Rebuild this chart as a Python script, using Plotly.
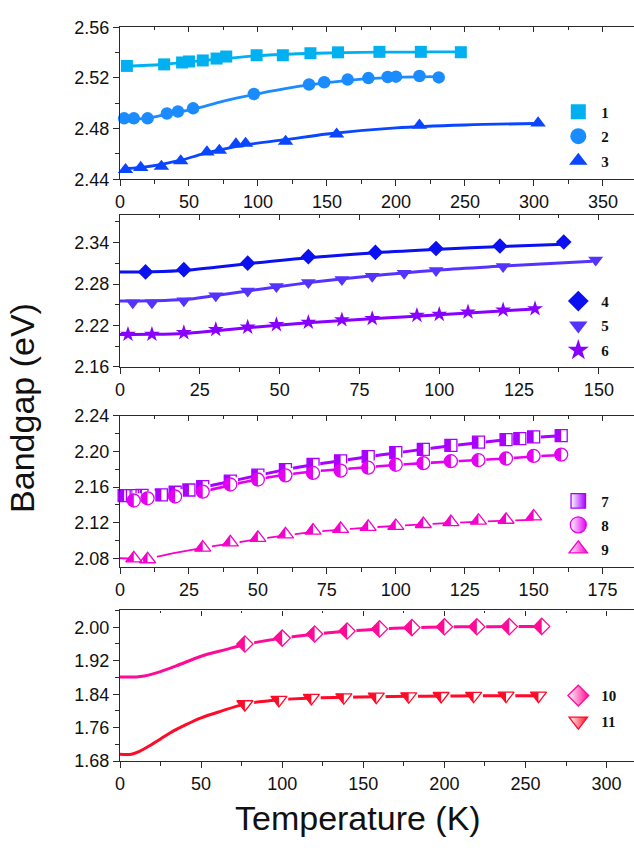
import plotly.graph_objects as go

# ---------------- data ----------------
T1 = [5, 32, 45, 50, 60, 70, 77, 99, 118, 138, 158, 188, 218, 247]
E1 = [2.5295, 2.5307, 2.5322, 2.5330, 2.5338, 2.5353, 2.5369, 2.5379, 2.5379, 2.5395, 2.5402, 2.5406, 2.5406, 2.5403]
T2 = [3, 10, 20, 34, 42, 53, 97, 137, 148, 165, 180, 194, 200, 217, 231]
E2 = [2.4881, 2.4881, 2.4881, 2.4919, 2.4935, 2.4960, 2.5073, 2.5148, 2.5166, 2.5187, 2.5199, 2.5207, 2.5210, 2.5215, 2.5204]
T3 = [4, 15, 30, 44, 63, 72, 84, 91, 120, 157, 217, 303]
E3 = [2.4475, 2.4492, 2.4501, 2.4544, 2.4614, 2.4627, 2.4678, 2.4683, 2.4698, 2.4756, 2.4826, 2.4844]
F1T = [4, 30, 50, 75, 100, 125, 150, 175, 200, 225, 247]
F1E = [2.5292, 2.5306, 2.5327, 2.5352, 2.5375, 2.5389, 2.5397, 2.5402, 2.5404, 2.5405, 2.5405]
F2T = [3, 20, 34, 53, 75, 100, 125, 150, 175, 200, 231]
F2E = [2.4872, 2.4882, 2.4913, 2.4953, 2.5017, 2.5075, 2.5125, 2.5162, 2.5190, 2.5205, 2.5210]
F3T = [2, 15, 30, 45, 60, 75, 90, 120, 150, 200, 250, 302]
F3E = [2.4482, 2.4493, 2.4518, 2.4552, 2.4600, 2.4638, 2.4670, 2.4712, 2.4757, 2.4805, 2.4828, 2.4840]

T4 = [8, 20, 40, 59, 80, 99, 119, 139]
E4 = [2.2976, 2.3009, 2.3103, 2.3197, 2.3259, 2.3315, 2.3352, 2.3409]
T5 = [4, 10, 20, 30, 40, 49, 59, 69.5, 79, 89, 99, 120, 149]
E5 = [2.2529, 2.2529, 2.2557, 2.2632, 2.2698, 2.2764, 2.2821, 2.2866, 2.2913, 2.2958, 2.2997, 2.3055, 2.3150]
T6 = [2.5, 10, 20, 30, 40, 49, 59, 69.5, 79, 93, 100, 109, 120, 130]
E6 = [2.2072, 2.2072, 2.2095, 2.2142, 2.2175, 2.2213, 2.2246, 2.2282, 2.2300, 2.2347, 2.2361, 2.2395, 2.2424, 2.2442]
F4T = [0, 10, 20, 30, 40, 60, 80, 100, 120, 139]
F4E = [2.2975, 2.2978, 2.2995, 2.3045, 2.3095, 2.3185, 2.3255, 2.3305, 2.3345, 2.3378]
F5T = [0, 10, 20, 30, 40, 50, 60, 70, 80, 100, 120, 148]
F5E = [2.2555, 2.2558, 2.2575, 2.2635, 2.2700, 2.2765, 2.2825, 2.2878, 2.2925, 2.3005, 2.3060, 2.3130]
F6T = [0, 10, 20, 30, 40, 60, 80, 100, 130]
F6E = [2.2070, 2.2072, 2.2085, 2.2125, 2.2168, 2.2242, 2.2300, 2.2355, 2.2440]

T7 = [1.5, 4.5, 8, 15, 20, 25, 30, 40, 50, 60, 70, 80, 90, 100, 110, 120, 130, 140, 145, 150, 160]
E7 = [2.1505, 2.1505, 2.1507, 2.1513, 2.1543, 2.1568, 2.1605, 2.1667, 2.1735, 2.1798, 2.1855, 2.1896, 2.1944, 2.1988, 2.2025, 2.2069, 2.2106, 2.2135, 2.2146, 2.2165, 2.2179]
T8 = [5, 10, 20, 30, 40, 50, 60, 70, 80, 90, 100, 110, 120, 130, 140, 150, 160]
E8 = [2.1450, 2.1475, 2.1495, 2.1550, 2.1630, 2.1686, 2.1733, 2.1760, 2.1786, 2.1819, 2.1852, 2.1870, 2.1892, 2.1903, 2.1922, 2.1951, 2.1966]
T9 = [5, 10, 30, 40, 50, 60, 70, 80, 90, 100, 110, 120, 130, 140, 150]
E9 = [2.0800, 2.0790, 2.0920, 2.0980, 2.1030, 2.1070, 2.1112, 2.1131, 2.1153, 2.1164, 2.1186, 2.1208, 2.1223, 2.1234, 2.1271]
F7T = [0, 8, 15, 20, 25, 30, 40, 50, 60, 70, 80, 90, 100, 110, 120, 130, 140, 150, 160]
F7E = [2.1505, 2.1507, 2.1513, 2.1540, 2.1568, 2.1600, 2.1665, 2.1732, 2.1797, 2.1852, 2.1896, 2.1942, 2.1985, 2.2025, 2.2065, 2.2100, 2.2132, 2.2158, 2.2178]
F8T = [0, 10, 20, 30, 40, 50, 60, 70, 80, 90, 100, 110, 120, 130, 140, 150, 160]
F8E = [2.1485, 2.1488, 2.1507, 2.1551, 2.1623, 2.1689, 2.1740, 2.1777, 2.1800, 2.1825, 2.1850, 2.1870, 2.1888, 2.1905, 2.1922, 2.1945, 2.1962]
F9T = [0, 10, 20, 30, 40, 50, 60, 70, 80, 90, 100, 110, 120, 130, 140, 152]
F9E = [2.0801, 2.0803, 2.0862, 2.0917, 2.0966, 2.1015, 2.1057, 2.1094, 2.1122, 2.1145, 2.1165, 2.1182, 2.1198, 2.1212, 2.1224, 2.1236]

T10 = [77, 100, 120, 140, 160, 180, 200, 220, 240, 260]
E10 = [1.960, 1.974, 1.984, 1.991, 1.996, 1.999, 2.001, 2.001, 2.0015, 2.002]
T11 = [77, 98, 118, 138, 158, 178, 198, 218, 238, 258]
E11 = [1.816, 1.8265, 1.831, 1.8326, 1.834, 1.835, 1.8357, 1.8362, 1.8365, 1.8365]
F10T = [0, 5, 10, 15, 25, 35, 50, 65, 77, 100, 120, 140, 160, 180, 200, 220, 240, 260]
F10E = [1.8809, 1.8809, 1.8812, 1.8835, 1.8941, 1.9081, 1.9307, 1.9465, 1.9587, 1.9740, 1.9835, 1.9905, 1.9960, 1.9990, 2.0005, 2.0012, 2.0015, 2.0017]
F11T = [0, 7, 12, 18.5, 25, 33, 41, 50, 62, 77, 98, 118, 138, 158, 178, 198, 218, 238, 258]
F11E = [1.6963, 1.6965, 1.7034, 1.7174, 1.733, 1.7524, 1.768, 1.7836, 1.7991, 1.8163, 1.8265, 1.831, 1.8326, 1.834, 1.835, 1.8357, 1.8362, 1.8365, 1.8365]

LABELS = ["1", "2", "3", "4", "5", "6", "7", "8", "9", "10", "11"]

# ---------------- styles / layout config ----------------
COL = ["#00B0F0", "#1A8CFF", "#0A46FF", "#0A10F0", "#5533FF", "#8800FF",
       "#AA00FF", "#E400F0", "#F500CC", "#FF0A96", "#FF0A28"]
SYM = ["square", "circle", "triangle-up", "diamond", "triangle-down", "star",
       "square", "circle", "triangle-up", "diamond", "triangle-down"]
MSIZE = [12, 12.5, 13.5, 12, 13, 12, 12, 13, 14, 12.5, 14]
LSIZE = [15, 16, 16, 16, 16, 16, 14.5, 16, 16, 16, 16]
LWID = [2.8, 2.8, 2.8, 3, 3, 3, 3, 2.6, 1.8, 3, 3]
HALF = [False] * 6 + [True] * 5

W, H = 634, 848
ML = 120
PLOT_W = W - ML

PANELS = [
    dict(xr=[0, 372.5], yr=[2.44, 2.56], top=17.7, bot=173.3, xd=50, yd=0.04, y0=2.44,
         series=[0, 1, 2], leg_top=87.5, gap=2),
    dict(xr=[0, 161], yr=[2.16, 2.38], top=210.0, bot=365.5, xd=25, yd=0.06, y0=2.16,
         series=[3, 4, 5], leg_top=281.5, gap=2),
    dict(xr=[0, 186.4], yr=[2.07, 2.24], top=415.8, bot=570.7, xd=25, yd=0.04, y0=2.08,
         series=[6, 7, 8], leg_top=486.0, gap=1.5),
    dict(xr=[0, 316.9], yr=[1.68, 2.04], top=615.0, bot=769.3, xd=50, yd=0.08, y0=1.68,
         series=[9, 10], leg_top=685.5, gap=3),
]

DATA = [(T1, E1, F1T, F1E), (T2, E2, F2T, F2E), (T3, E3, F3T, F3E),
        (T4, E4, F4T, F4E), (T5, E5, F5T, F5E), (T6, E6, F6T, F6E),
        (T7, E7, F7T, F7E), (T8, E8, F8T, F8E), (T9, E9, F9T, F9E),
        (T10, E10, F10T, F10E), (T11, E11, F11T, F11E)]

TICKFONT = dict(family="Liberation Sans, Arial, sans-serif", size=18, color="#111")
AXCOL = "#2a2a2a"

fig = go.Figure()


def half_extent(sym, r):
    hw = {"square": r, "circle": r, "triangle-up": 1.155 * r,
          "triangle-down": 1.155 * r, "diamond": 1.3 * r}[sym]
    hh = {"square": r, "circle": r, "triangle-up": r,
          "triangle-down": r, "diamond": 1.3 * r}[sym]
    return hw, hh


for p_i, P in enumerate(PANELS):
    xa = "x" if p_i == 0 else f"x{p_i + 1}"
    ya = "y" if p_i == 0 else f"y{p_i + 1}"
    leg = "legend" if p_i == 0 else f"legend{p_i + 1}"
    span = P["xr"][1] - P["xr"][0]
    du = span / PLOT_W
    for s in P["series"]:
        T, E, FT, FE = DATA[s]
        fig.add_trace(go.Scatter(x=FT, y=FE, mode="lines", xaxis=xa, yaxis=ya,
                                 line=dict(color=COL[s], width=LWID[s], shape="spline", smoothing=0.9),
                                 showlegend=False, hoverinfo="skip"))
    for s in P["series"]:
        T, E, FT, FE = DATA[s]
        fig.add_trace(go.Scatter(x=T, y=E, mode="markers", xaxis=xa, yaxis=ya, cliponaxis=False,
                                 marker=dict(symbol=SYM[s], size=MSIZE[s], color=COL[s], line=dict(width=0)),
                                 showlegend=False, name=LABELS[s]))
        if HALF[s]:
            r = MSIZE[s] / 2
            hw, hh = half_extent(SYM[s], r)
            cw = hw + 1.2
            xs = [t + (cw / 2) * du for t in T]
            fig.add_trace(go.Scatter(x=xs, y=E, mode="markers", xaxis=xa, yaxis=ya, cliponaxis=False,
                                     marker=dict(symbol="line-ns", size=(2 * hh + 1.5) / 1.4, color="white",
                                                 line=dict(color="white", width=cw)),
                                     showlegend=False, hoverinfo="skip"))
            fig.add_trace(go.Scatter(x=T, y=E, mode="markers", xaxis=xa, yaxis=ya, cliponaxis=False,
                                     marker=dict(symbol=SYM[s] + "-open", size=MSIZE[s], color=COL[s],
                                                 line=dict(color=COL[s], width=1.3)),
                                     showlegend=False, hoverinfo="skip"))
    for s in P["series"]:
        if HALF[s]:
            mk = dict(symbol=SYM[s], size=LSIZE[s], color="white",
                      gradient=dict(type="horizontal", color=COL[s]),
                      line=dict(color=COL[s], width=1.3))
        else:
            mk = dict(symbol=SYM[s], size=LSIZE[s], color=COL[s], line=dict(width=0))
        fig.add_trace(go.Scatter(x=[None], y=[None], mode="markers", xaxis=xa, yaxis=ya,
                                 marker=mk, name=LABELS[s], legend=leg, legendgroup=f"g{s}",
                                 showlegend=True, hoverinfo="skip"))

    dom = [1 - P["bot"] / H, 1 - P["top"] / H]
    fig.layout[("xaxis" if p_i == 0 else f"xaxis{p_i + 1}")] = dict(
        domain=[0, 1], anchor=ya, range=P["xr"], tick0=0, dtick=P["xd"],
        ticks="outside", ticklen=6, tickwidth=1.2, tickcolor=AXCOL,
        minor=dict(dtick=P["xd"] / 2, tick0=0, ticks="outside", ticklen=3.5, tickwidth=1, tickcolor=AXCOL),
        showline=True, linecolor=AXCOL, linewidth=1.3, showgrid=False, zeroline=False,
        tickfont=TICKFONT)
    fig.layout[("yaxis" if p_i == 0 else f"yaxis{p_i + 1}")] = dict(
        domain=dom, anchor=xa, range=P["yr"], tick0=P["y0"], dtick=P["yd"], tickformat=".2f",
        ticks="outside", ticklen=6, tickwidth=1.2, tickcolor=AXCOL,
        minor=dict(dtick=P["yd"] / 2, tick0=P["y0"], ticks="outside", ticklen=3.5, tickwidth=1, tickcolor=AXCOL),
        showline=True, linecolor=AXCOL, linewidth=1.3, showgrid=False, zeroline=False,
        tickfont=TICKFONT)
    top_id = p_i + 5
    fig.add_trace(go.Scatter(x=[None], y=[None], xaxis=f"x{top_id}", yaxis=ya,
                             showlegend=False, hoverinfo="skip"))
    fig.layout[f"xaxis{top_id}"] = dict(
        overlaying=xa, side="top", anchor=ya, range=P["xr"], tick0=0, dtick=P["xd"],
        ticks="inside", ticklen=5, tickwidth=1.2, tickcolor=AXCOL, showticklabels=False,
        minor=dict(dtick=P["xd"] / 2, tick0=0, ticks="inside", ticklen=2.5, tickwidth=1, tickcolor=AXCOL),
        showline=True, linecolor=AXCOL, linewidth=1.3, showgrid=False, zeroline=False)
    fig.layout[leg] = dict(
        x=(555.3 - ML) / PLOT_W, xanchor="left", y=1 - P["leg_top"] / H, yanchor="top",
        bgcolor="rgba(0,0,0,0)", borderwidth=0, itemwidth=36, tracegroupgap=P["gap"],
        traceorder="grouped",
        font=dict(family="Liberation Serif, Times New Roman, serif", size=15, color="#111", weight="bold"))

fig.add_annotation(text="Bandgap (eV)", xref="paper", yref="paper", x=(22.5 - ML) / PLOT_W, y=1 - 408 / H,
                   textangle=-90, showarrow=False, xanchor="center", yanchor="middle",
                   font=dict(family="Liberation Sans, Arial, sans-serif", size=34, color="#111"))
fig.add_annotation(text="Temperature (K)", xref="paper", yref="paper", x=(358 - ML) / PLOT_W, y=1 - 828 / H,
                   showarrow=False, xanchor="center", yanchor="middle",
                   font=dict(family="Liberation Sans, Arial, sans-serif", size=34, color="#111"))

fig.update_layout(width=W, height=H, margin=dict(l=ML, r=0, t=0, b=0),
                  paper_bgcolor="white", plot_bgcolor="white", showlegend=True)

fig.write_html("out.html")
